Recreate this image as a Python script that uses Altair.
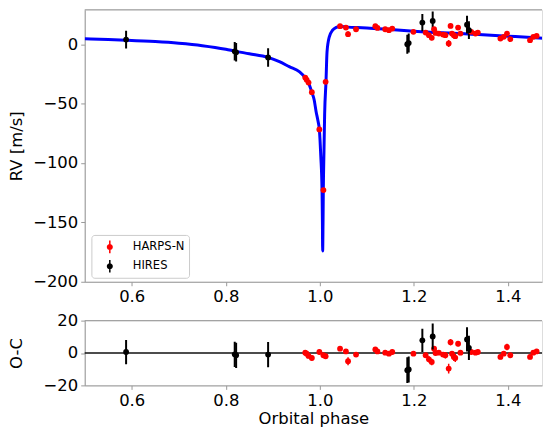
import altair as alt
import pandas as pd

# ---------------- data ----------------
model_phase = [0.50, 0.55, 0.588, 0.65, 0.70, 0.75, 0.80, 0.82, 0.85, 0.89, 0.914, 0.935,
               0.957, 0.969, 0.976, 0.983, 0.988, 0.992, 0.996, 0.999, 1.002, 1.0047,
               1.0055, 1.006, 1.0068, 1.0074, 1.0088, 1.0102, 1.0131, 1.0153, 1.0201,
               1.0271, 1.035, 1.043, 1.06, 1.08, 1.10, 1.15, 1.20, 1.25, 1.30, 1.338,
               1.40, 1.45, 1.49]
model_rv = [4.6, 4.0, 3.4, 2.2, 0.8, -1.2, -4.2, -5.8, -8.0, -11.1, -14.7, -18.9,
            -23.3, -28.3, -32.5, -40.5, -47.0, -56.6, -64.5, -71.9, -94.0, -123.6,
            -150.0, -174.0, -150.0, -123.6, -90.0, -59.2, -31.5, -6.4, 6.2,
            11.8, 14.2, 15.0, 14.4, 14.0, 13.7, 12.4, 11.0, 9.8, 9.0, 8.1,
            6.8, 5.7, 4.6]

harps_phase = [0.969, 0.972, 0.976, 0.983, 0.999, 1.0076, 1.0123, 1.043, 1.0555, 1.060,
               1.077, 1.118, 1.1225, 1.139, 1.147, 1.154, 1.199, 1.225, 1.232, 1.238,
               1.243, 1.246, 1.253, 1.262, 1.267, 1.274, 1.278, 1.281, 1.285, 1.288,
               1.294, 1.299, 1.322, 1.331, 1.336, 1.384, 1.391, 1.398, 1.405, 1.447,
               1.454, 1.461, 1.486]
harps_rv = [-28.1, -30.0, -32.3, -40.4, -71.7, -122.8, -31.7, 15.2, 14.0, 8.5,
            12.6, 15.2, 13.7, 12.6, 11.8, 13.2, 10.4, 9.8, 7.6, 5.4,
            12.6, 9.5, 9.0, 8.1, 7.6, 0.6, 15.4, 9.0, 7.6, 6.8,
            14.0, 9.0, 10.4, 9.0, 9.8, 4.8, 6.2, 9.0, 4.3, 3.4,
            6.2, 7.0, 4.8]
harps_oc = [0.2, -0.4, -1.8, -3.1, 0.6, -1.4, -2.0, 2.7, 1.0, -5.1,
            -1.0, 2.2, 1.0, 0.2, -0.4, 0.6, -0.4, -1.4, -3.9, -5.5,
            2.7, 0.0, 0.2, -1.0, -1.4, -9.6, 6.7, -0.4, -2.4, -3.1,
            5.7, 0.2, 0.6, 0.2, 0.6, -2.4, -0.4, 3.7, -1.4, -2.4,
            0.2, 1.0, -0.4]
harps_err = [1.5, 1.5, 1.5, 1.5, 1.5, 1.5, 1.5, 1.5, 1.5, 2.5,
             1.5, 1.5, 1.5, 1.5, 1.5, 1.5, 1.5, 1.5, 2.0, 2.0,
             1.5, 1.5, 1.5, 1.5, 2.0, 3.0, 2.0, 1.5, 2.5, 2.5,
             1.5, 1.5, 1.5, 1.5, 1.5, 1.5, 1.5, 2.0, 1.5, 1.5,
             1.5, 1.5, 1.5]

hires_phase = [0.588, 0.819, 0.822, 0.890, 1.186, 1.189, 1.218, 1.240, 1.313, 1.317]
hires_rv = [3.9, -6.0, -6.8, -11.1, 0.0, 1.0, 18.2, 19.6, 16.5, 11.8]
hires_oc = [0.6, -0.8, -1.4, -1.0, -10.6, -10.2, 7.8, 10.2, 8.4, 3.2]
hires_err = [7.5, 7.8, 7.8, 7.8, 8.0, 8.0, 7.2, 8.0, 7.5, 7.5]

rv_ticks = [-200, -150, -100, -50, 0]
oc_ticks = [-20, 0, 20]
phase_ticks = [0.6, 0.8, 1.0, 1.2, 1.4]

# ---------------- tables ----------------
model = pd.DataFrame({"phase": model_phase, "rv": model_rv})
harps = pd.DataFrame({"phase": harps_phase, "rv": harps_rv, "oc": harps_oc,
                      "err": harps_err, "inst": "HARPS-N"})
hires = pd.DataFrame({"phase": hires_phase, "rv": hires_rv, "oc": hires_oc,
                      "err": hires_err, "inst": "HIRES"})
for d in (harps, hires):
    d["rv_lo"] = d["rv"] - d["err"]
    d["rv_hi"] = d["rv"] + d["err"]
    d["oc_lo"] = d["oc"] - d["err"]
    d["oc_hi"] = d["oc"] + d["err"]
allpts = pd.concat([harps, hires], ignore_index=True)

FONT = "DejaVu Sans"
FS = 16.5
W = 459
XDOM = [0.5, 0.5 + W / 472.0]
SPINE = "#999999"

xscale = alt.Scale(domain=XDOM, nice=False, zero=False)
color_scale = alt.Scale(domain=["HARPS-N", "HIRES"], range=["#ff0000", "#000000"])

legend_path = ("M0.91,-1H1.15V1H0.91Z "
               "M0.55,0A0.48,0.48,0,1,1,1.51,0A0.48,0.48,0,1,1,0.55,0Z")


def y_axis(title, values):
    return alt.Axis(title=title, values=values, format="d", tickSize=4, labelPadding=3,
                    minExtent=54, maxExtent=54, titlePadding=6, grid=False,
                    labelOverlap=False, labelFlush=False, labelBound=False,
                    labelFontSize=FS, titleFontSize=FS,
                    titleFontWeight="normal", labelFont=FONT, titleFont=FONT,
                    domainColor=SPINE, tickColor=SPINE, labelColor="#000000",
                    titleColor="#000000")


def x_axis(title=None, extent=None):
    kw = dict(values=phase_ticks, format=".1f", tickSize=4,
              labelPadding=3, grid=False, labelOverlap=False, labelFlush=False,
              labelFontSize=FS, labelFont=FONT, domainColor=SPINE, tickColor=SPINE,
              labelColor="#000000")
    if title is None:
        kw["title"] = None
        kw["minExtent"] = extent
        kw["maxExtent"] = extent
    else:
        kw.update(title=title, titleFontSize=FS, titleFont=FONT,
                  titleFontWeight="normal", titlePadding=2, titleColor="#000000")
    return alt.Axis(**kw)


def top_border():
    return alt.Chart(pd.DataFrame({"b": [0]})).mark_rule(color=SPINE, strokeWidth=1).encode(
        y=alt.value(0))


# ---------------- top panel ----------------
xt = alt.X("phase:Q", scale=xscale, axis=x_axis(extent=24))
ytop = alt.Scale(domain=[-200, 29], nice=False, zero=False)
yax_top = y_axis("RV [m/s]", rv_ticks)

curve = alt.Chart(model).mark_line(color="#0000ff", strokeWidth=3, clip=True,
                                   interpolate="monotone").encode(
    x=xt, y=alt.Y("rv:Q", scale=ytop, axis=yax_top), order="phase:Q")

err_red = alt.Chart(harps).mark_rule(color="#ff0000", strokeWidth=1.5, clip=True).encode(
    x=xt, y=alt.Y("rv_lo:Q", scale=ytop, axis=yax_top), y2="rv_hi:Q")
err_blk = alt.Chart(hires).mark_rule(color="#000000", strokeWidth=2, clip=True).encode(
    x=xt, y=alt.Y("rv_lo:Q", scale=ytop, axis=yax_top), y2="rv_hi:Q")

pts = alt.Chart(allpts).mark_circle(size=34, opacity=1, clip=True).encode(
    x=xt, y=alt.Y("rv:Q", scale=ytop, axis=yax_top),
    color=alt.Color("inst:N", scale=color_scale,
                    legend=alt.Legend(title=None, orient="none", legendX=6.7, legendY=226,
                                      symbolType=legend_path, symbolSize=159,
                                      symbolOpacity=1, labelFont=FONT, labelFontSize=11.6,
                                      labelColor="#000000", labelOffset=22,
                                      rowPadding=5.4, padding=4.5,
                                      fillColor="#ffffff", strokeColor="#cccccc",
                                      cornerRadius=3)))

top = alt.layer(curve, err_red, err_blk, pts, top_border()).properties(width=W, height=273)

# ---------------- bottom panel ----------------
xb = alt.X("phase:Q", scale=xscale, axis=x_axis(title="Orbital phase"))
ybot = alt.Scale(domain=[-20, 20], nice=False, zero=False)
yax_bot = y_axis("O-C", oc_ticks)

zero = alt.Chart(pd.DataFrame({"z": [0]})).mark_rule(color="#111111", strokeWidth=1.6).encode(
    y=alt.Y("z:Q", scale=ybot, axis=yax_bot))

oerr_red = alt.Chart(harps).mark_rule(color="#ff0000", strokeWidth=1.5, clip=True).encode(
    x=xb, y=alt.Y("oc_lo:Q", scale=ybot, axis=yax_bot), y2="oc_hi:Q")
oerr_blk = alt.Chart(hires).mark_rule(color="#000000", strokeWidth=2, clip=True).encode(
    x=xb, y=alt.Y("oc_lo:Q", scale=ybot, axis=yax_bot), y2="oc_hi:Q")
opts_red = alt.Chart(harps).mark_circle(size=34, opacity=1, color="#ff0000", clip=True).encode(
    x=xb, y=alt.Y("oc:Q", scale=ybot, axis=yax_bot))
opts_blk = alt.Chart(hires).mark_circle(size=34, opacity=1, color="#000000", clip=True).encode(
    x=xb, y=alt.Y("oc:Q", scale=ybot, axis=yax_bot))

bottom = alt.layer(zero, oerr_red, opts_red, oerr_blk, opts_blk, top_border()).properties(
    width=W, height=65)

chart = alt.vconcat(top, bottom, spacing=5).resolve_legend(color="independent").properties(
    padding=0
).configure_view(strokeWidth=0).configure(font=FONT)

chart.save("out.html", embed_options={"renderer": "svg", "actions": False})
